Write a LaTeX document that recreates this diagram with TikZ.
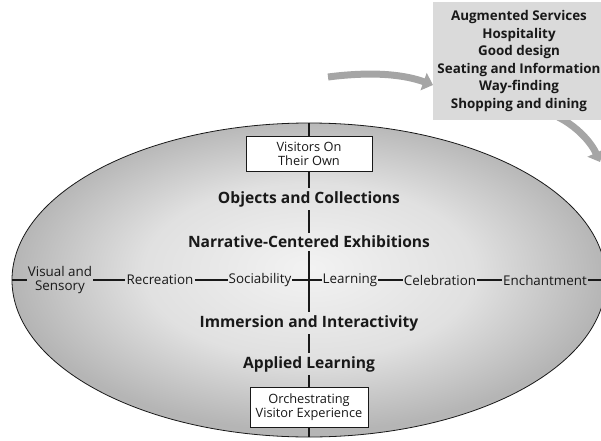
\documentclass[tikz,border=0pt]{standalone}
\usepackage{fontspec}
\setmainfont{Open Sans}
\usetikzlibrary{shapes.geometric,arrows.meta}
\usepackage{xcolor}
\definecolor{mpanel}{RGB}{218,218,218}
\definecolor{marrow}{RGB}{165,165,165}
\definecolor{mink}{RGB}{25,25,25}
\pgfdeclareradialshading{ovalshade}{\pgfpoint{0bp}{2bp}}{color(0bp)=(white!95!black); color(14bp)=(white!88!black); color(25bp)=(white!71!black); color(50bp)=(white!71!black)}

\begin{document}
\begin{tikzpicture}[x=1pt, y=1pt, text=mink,
  axis/.style={draw=mink, line width=1.2pt},
  stage/.style={font=\fontsize{15.6}{17}\selectfont\bfseries, inner sep=3pt},
  mode/.style={font=\fontsize{13.4}{13.5}\selectfont, inner sep=1pt, align=center},
  endbox/.style={draw=mink, fill=white, line width=0.6pt, align=center, font=\fontsize{12.8}{14.5}\selectfont},
  flow/.style={draw=marrow, line width=7pt, -{Triangle[length=10pt,width=18pt]}}]
  \useasboundingbox (0,0) rectangle (601,440);

  % curved arrows into and out of the services panel
  \coordinate (in1) at (328,363);
  \coordinate (out2) at (540,330);
  \coordinate (tip2) at (600,278);
  \draw[flow] (in1) .. controls (375,369) and (405,365) .. (433,355);
  \draw[flow] (out2) .. controls (570,322) and (590,300) .. (tip2);

  \node[fill=mpanel, minimum width=172pt, minimum height=118pt, align=center,
        font=\fontsize{13.4}{17.6}\selectfont\bfseries] (services) at (519,379)
    {Augmented Services\\Hospitality\\Good design\\Seating and Information\\Way-finding\\Shopping and dining};

  % the experience oval
  \node[ellipse, draw=mink, line width=0.8pt, shading=ovalshade,
        minimum width=594pt, minimum height=314pt, inner sep=0pt] (oval) at (309,160) {};

  % vertical axis
  \node[endbox, minimum width=126pt, minimum height=35pt] (visitors) at (309,286) {Visitors On\\Their Own};
  \node[stage] (objects) at (309,241) {Objects and Collections};
  \node[stage] (narrative) at (309,198) {Narrative-Centered Exhibitions};
  \node[stage] (immersion) at (309,117) {Immersion and Interactivity};
  \node[stage] (applied) at (309,76) {Applied Learning};
  \node[endbox, minimum width=118pt, minimum height=40pt] (orchestra) at (309,33) {Orchestrating\\Visitor Experience};

  % horizontal axis
  \node[mode] (visual) at (60,160) {Visual and\\Sensory};
  \node[mode] (recreation) at (160,160) {Recreation};
  \node[mode] (sociability) at (260,160) {Sociability};
  \node[mode] (learning) at (350,160) {Learning};
  \node[mode] (celebration) at (440,160) {Celebration};
  \node[mode] (enchantment) at (545,160) {Enchantment};

  \draw[axis] (oval.north) -- (visitors) -- (objects) -- (narrative) -- (immersion)
    -- (applied) -- (orchestra) -- (oval.south);
  \draw[axis] (oval.west) -- (visual) -- (recreation) -- (sociability) -- (learning)
    -- (celebration) -- (enchantment) -- (oval.east);
\end{tikzpicture}
\end{document}
